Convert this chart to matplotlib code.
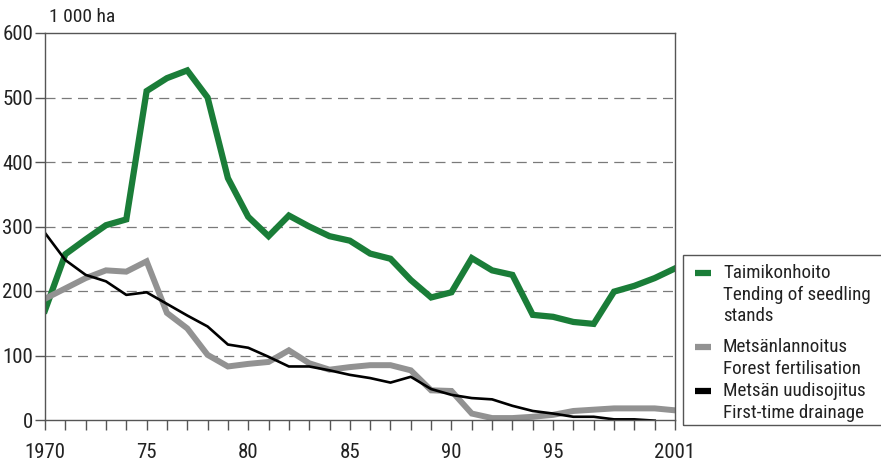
import matplotlib
matplotlib.use('Agg')
import matplotlib.pyplot as plt
from matplotlib.lines import Line2D
from matplotlib.patches import Rectangle
import numpy as np

plt.rcParams['font.family'] = ['Roboto Condensed', 'DejaVu Sans']

years = np.arange(1970, 2002)
taimikonhoito = [170, 257, 280, 302, 311, 510, 530, 542, 500, 375,
                 315, 285, 317, 300, 285, 278, 258, 250, 217, 190,
                 198, 251, 232, 225, 163, 160, 152, 149, 199, 208,
                 220, 235]
lannoitus = [188, 204, 220, 232, 230, 246, 166, 142, 101, 83,
             87, 90, 108, 88, 78, 82, 85, 85, 77, 46,
             45, 10, 3, 3, 5, 8, 14, 16, 18, 18,
             18, 15]
years_oj = np.arange(1970, 2001)
uudisojitus = [290, 248, 225, 215, 194, 198, 180, 162, 145, 117,
               112, 98, 83, 83, 77, 70, 65, 58, 67, 48,
               39, 34, 32, 22, 14, 10, 5, 5, 1, 1,
               -1]

labels = [['Taimikonhoito', 'Tending of seedling', 'stands'],
          ['Metsänlannoitus', 'Forest fertilisation'],
          ['Metsän uudisojitus', 'First-time drainage']]
xtick_pos = [1970, 1975, 1980, 1985, 1990, 1995, 2001]
xtick_lab = ['1970', '75', '80', '85', '90', '95', '2001']

W, H = 881, 462
fig = plt.figure(figsize=(W/100, H/100), dpi=100)
ax = fig.add_axes([45/W, 1-420/H, 630/W, 387/H])

l1, = ax.plot(years, taimikonhoito, color='#1a7d38', lw=4.5, solid_joinstyle='miter')
l2, = ax.plot(years, lannoitus, color='#929292', lw=4.3, solid_joinstyle='miter')
l3, = ax.plot(years_oj, uudisojitus, color='black', lw=1.9)

ax.set_xlim(1970, 2001)
ax.set_ylim(0, 600)
ax.set_yticks(range(0, 601, 100))
ax.set_xticks(years)
ax.set_xticklabels([xtick_lab[xtick_pos.index(y)] if y in xtick_pos else '' for y in years])
for y in range(100, 600, 100):
    ax.axhline(y, color='#7a7a7a', lw=0.9, ls=(0, (8, 5)), zorder=0)

for s in ax.spines.values():
    s.set_color('#555555')
    s.set_linewidth(1)
ax.tick_params(axis='both', direction='out', length=7, color='#555555', width=1,
               labelsize=15, labelcolor='#222222')
ax.tick_params(axis='x', pad=9.5)
ax.tick_params(axis='y', pad=1.5)

fig.text(49/W, 1-17/H, '1 000 ha', fontsize=14, color='#222222', va='center')

# legend drawn by hand so the keys sit on the first text line
fig.add_artist(Rectangle((683/W, 1-425/H), (900-683)/W, 170/H, transform=fig.transFigure,
                         fill=False, edgecolor='#555555', lw=1, clip_on=False))
first_lines = [273, 347, 391]
for line, lab, y0 in zip([l1, l2, l3], labels, first_lines):
    fig.add_artist(Line2D([695/W, 711/W], [1-y0/H, 1-y0/H], transform=fig.transFigure,
                          color=line.get_color(), lw=4.5, solid_capstyle='butt'))
    for i, t in enumerate(lab):
        fig.text(723/W, 1-(y0 + i*21.5)/H, t, fontsize=13.7, color='#222222', va='center')

fig.savefig('out.png', dpi=100)
